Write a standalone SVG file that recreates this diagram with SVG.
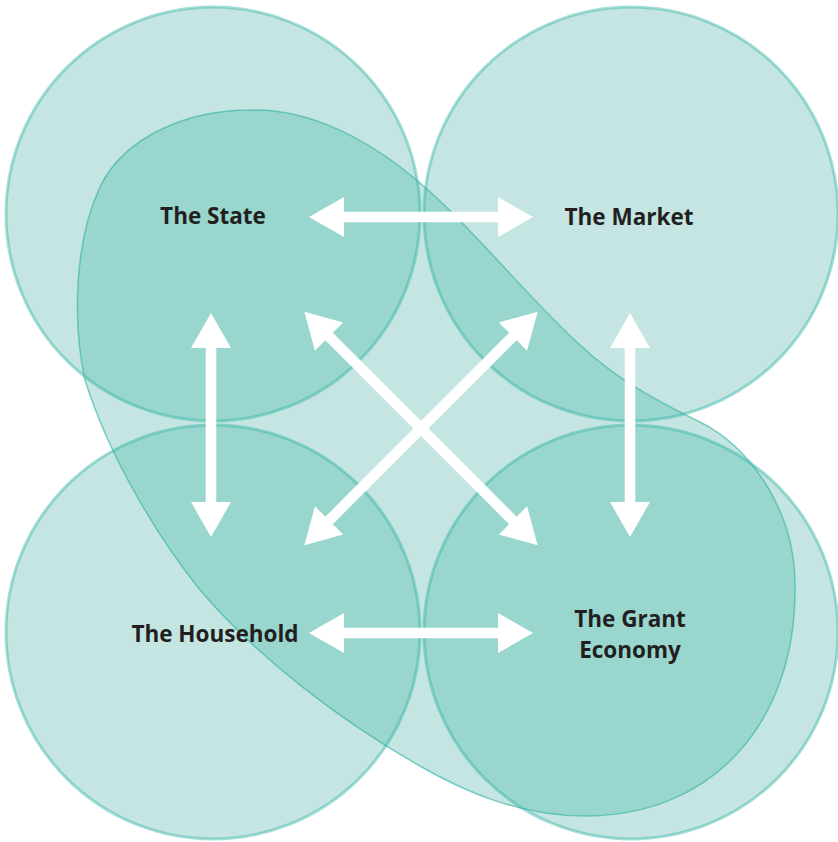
<svg xmlns="http://www.w3.org/2000/svg" width="838" height="842" viewBox="0 0 838 842">
<style>
.fill{fill:#c4e5e1}
.dark{fill:#98d6ce}
.cs{fill:none;stroke:#2fb3a3;stroke-opacity:0.44;stroke-width:3}
.bs{fill:none;stroke:#2fb3a3;stroke-opacity:0.6;stroke-width:1.5}
.lbl{font-family:"Open Sans","Liberation Sans",sans-serif;font-weight:700;font-size:22.5px;fill:#231f20;text-anchor:middle}
.arr{fill:#ffffff}
</style>
<defs>
<path id="blobPath" d="M250,110 C310,108 370,140 420,183 C470,225 530,300 580,345 C615,378 655,400 700,422 C750,447 795,510 795,585 C797,720 715,816 585,816 C520,816 465,792 418,765 C340,720 260,660 200,590 C160,540 110,460 85,380 C72,320 75,240 100,187 C125,135 190,110 250,110 Z"/>
<clipPath id="circlesClip">
<circle cx="213" cy="214" r="207"/>
<circle cx="631" cy="214" r="207"/>
<circle cx="213" cy="632" r="207"/>
<circle cx="631" cy="632" r="207"/>
</clipPath>
<path id="dblH" d="M-112,0 L-77,-20 L-77,-5.3 L77,-5.3 L77,-20 L112,0 L77,20 L77,5.3 L-77,5.3 L-77,20 Z"/>
<path id="dblD" d="M-165,0 L-130,-20 L-130,-5.3 L130,-5.3 L130,-20 L165,0 L130,20 L130,5.3 L-130,5.3 L-130,20 Z"/>
</defs>
<rect width="838" height="842" fill="#ffffff"/>
<g id="fills">
<circle class="fill" cx="213" cy="214" r="207"/>
<circle class="fill" cx="631" cy="214" r="207"/>
<circle class="fill" cx="213" cy="632" r="207"/>
<circle class="fill" cx="631" cy="632" r="207"/>
<use href="#blobPath" class="fill"/>
<use href="#blobPath" class="dark" clip-path="url(#circlesClip)"/>
</g>
<g id="grant-economy-region">
<use href="#blobPath" class="bs"/>
</g>
<g id="state">
<circle class="cs" cx="213" cy="214" r="207"/>
<text class="lbl" x="213" y="224">The State</text>
</g>
<g id="market">
<circle class="cs" cx="631" cy="214" r="207"/>
<text class="lbl" x="629" y="225">The Market</text>
</g>
<g id="household">
<circle class="cs" cx="213" cy="632" r="207"/>
<text class="lbl" x="215" y="642">The Household</text>
</g>
<g id="grant">
<circle class="cs" cx="631" cy="632" r="207"/>
<text class="lbl" x="630" y="627">The Grant</text>
<text class="lbl" x="630" y="658">Economy</text>
</g>
<g id="connectors" class="arr">
<use href="#dblH" transform="translate(421,217)"/>
<use href="#dblH" transform="translate(421,633)"/>
<use href="#dblH" transform="translate(211,425) rotate(90)"/>
<use href="#dblH" transform="translate(630,425) rotate(90)"/>
<use href="#dblD" transform="translate(421,428.5) rotate(45)"/>
<use href="#dblD" transform="translate(421,428.5) rotate(-45)"/>
</g>
</svg>
